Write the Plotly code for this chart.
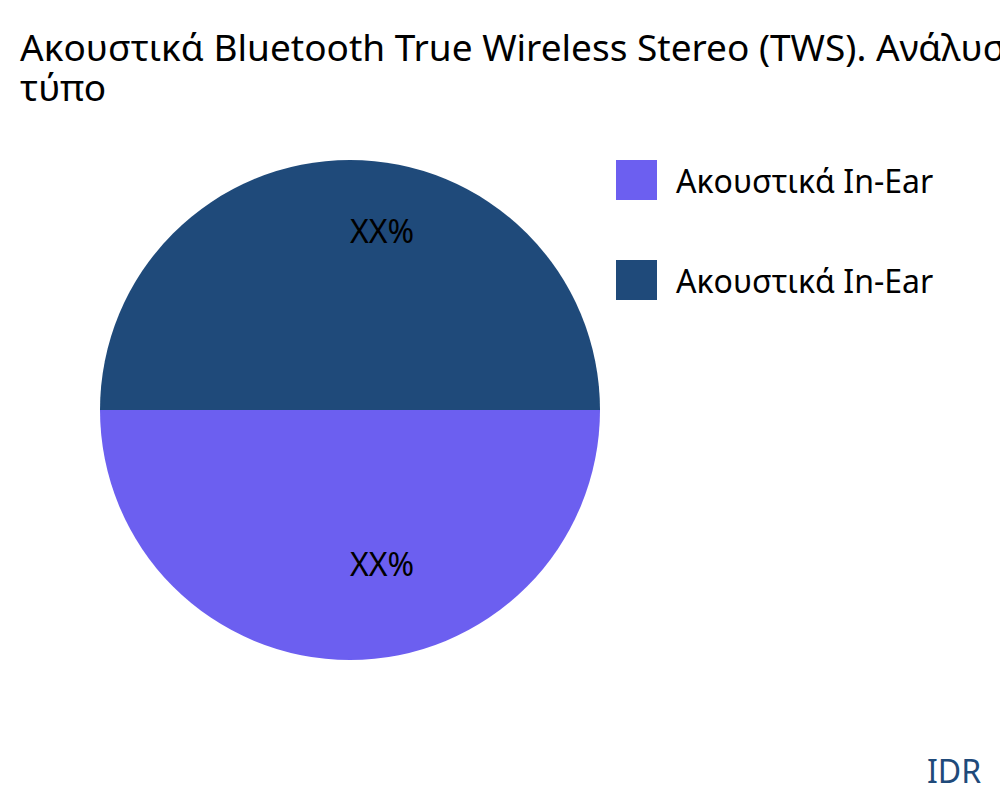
import math
import plotly.graph_objects as go

title_line1 = "Ακουστικά Bluetooth True Wireless Stereo (TWS). Ανάλυση μεριδίου αγοράς κατά"
title_line2 = "τύπο"
labels = ["Ακουστικά In-Ear", "Ακουστικά In-Ear"]
values = [50, 50]
slice_text = ["XX%", "XX%"]
colors = ["#6C5FF0", "#1F4A7A"]
source = "IDR"

FONT = "Noto Sans"
W, H = 1000, 800
M_T, M_B = 160, 140
PLOT_H = H - M_T - M_B
DOM_X = [0.1, 0.6]
ROTATION = 90  # first slice starts at 3 o'clock, clockwise

fig = go.Figure()
fig.add_trace(go.Pie(
    values=values,
    hovertext=labels,
    hoverinfo="text+percent",
    textinfo="none",
    marker=dict(colors=colors),
    sort=False,
    direction="clockwise",
    rotation=ROTATION,
    showlegend=False,
    domain=dict(x=DOM_X, y=[0, 1]),
))

# slice labels at 2/3 of the radius, on each slice's mid angle (computed from values)
cx = (DOM_X[0] + DOM_X[1]) / 2
cy = 0.5
r_px = min((DOM_X[1] - DOM_X[0]) * W, PLOT_H) / 2
total = sum(values)
cum = 0
for v, t in zip(values, slice_text):
    mid = math.radians(90 - ROTATION - (cum + v / 2) / total * 360)
    cum += v
    fig.add_annotation(text=t, xref="paper", yref="paper",
                       x=cx + 0.667 * r_px * math.cos(mid) / W,
                       y=cy + 0.667 * r_px * math.sin(mid) / PLOT_H,
                       xanchor="left", yanchor="middle", yshift=13, xshift=-2,
                       showarrow=False,
                       font=dict(family=FONT, size=32, color="black"))

# legend with large square swatches
for i, (lab, col) in enumerate(zip(labels, colors)):
    top = 160 + i * 100
    fig.add_shape(type="rect", xref="paper", yref="paper",
                  x0=616 / W, x1=657 / W,
                  y0=1 - (top + 40 - M_T) / PLOT_H, y1=1 - (top - M_T) / PLOT_H,
                  fillcolor=col, line=dict(width=0))
    fig.add_annotation(text=lab, xref="paper", yref="paper",
                       x=674 / W, y=1 - (top + 20 - M_T) / PLOT_H,
                       xanchor="left", yanchor="middle", showarrow=False,
                       font=dict(family=FONT, size=32, color="black"))

fig.add_annotation(text=title_line2, xref="paper", yref="paper",
                   x=0.018, y=1 + (M_T - 86) / PLOT_H,
                   xanchor="left", yanchor="middle", showarrow=False,
                   font=dict(family=FONT, size=37, color="black"))

fig.add_annotation(text=source, xref="paper", yref="paper",
                   x=0.983, y=-(770 - (H - M_B)) / PLOT_H,
                   xanchor="right", yanchor="middle", showarrow=False,
                   font=dict(family=FONT, size=32, color="#1F4A7A"))

fig.update_layout(
    width=W, height=H,
    margin=dict(l=0, r=0, t=M_T, b=M_B),
    paper_bgcolor="white", plot_bgcolor="white",
    font=dict(family=FONT),
    title=dict(text=title_line1, x=0.02, xanchor="left", y=1 - 48 / H, yanchor="middle",
               font=dict(family=FONT, size=37, color="black")),
)

fig.write_html("out.html", config={"displayModeBar": False},
               post_script="document.body.style.margin='0';document.body.style.overflow='hidden';")
